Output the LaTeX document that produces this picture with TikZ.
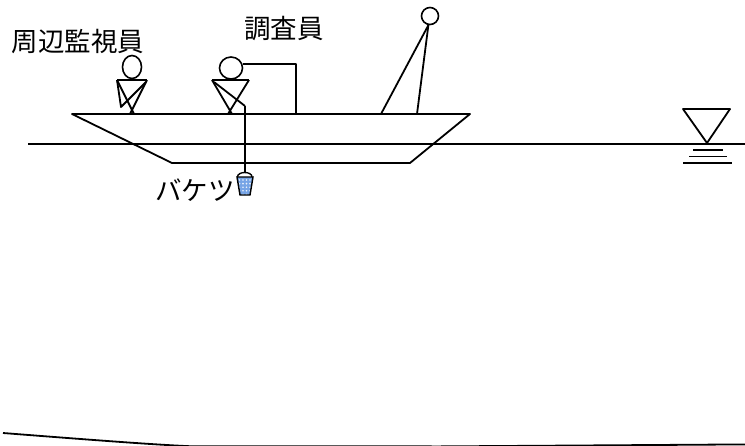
\documentclass[tikz,border=0pt]{standalone}
\usepackage{fontspec}
\newfontfamily\jpfont{Noto Sans CJK JP}
\usetikzlibrary{shapes.geometric}

\definecolor{bucketBlue}{RGB}{118,164,230}

\begin{document}
\begin{tikzpicture}[
    x=1pt, y=-1pt,
    % Define the style for all outline strokes
    lineStyle/.style={
        draw=black,
        line width=1.8pt,
        line join=round
    },
    % Define the style for the heads
    headNode/.style={
        ellipse,
        draw=black,
        fill=white,
        line width=1.6pt,
        inner sep=0pt
    },
    % Define the style for the Japanese labels
    jLabel/.style={
        font=\jpfont\fontsize{26.5}{30}\selectfont,
        inner sep=0pt
    }
]

    \useasboundingbox (0,0) rectangle (745,445);

    % --- COORDINATE DEFINITIONS ---
    % Deck and bottom level of the boat
    \def\deckY{114}
    \def\keelY{163}
    % Water surface level
    \def\waterY{144}

    % --- BOAT AND WATER ---
    \coordinate (deckL) at (72,\deckY);
    \coordinate (deckR) at (470,\deckY);
    \coordinate (keelR) at (410,\keelY);
    \coordinate (keelL) at (172,\keelY);
    \draw[lineStyle] (deckL) -- (deckR) -- (keelR) -- (keelL) -- cycle;

    \coordinate (waterL) at (28,\waterY);
    \coordinate (waterR) at (745,\waterY);
    \draw[lineStyle] (waterL) -- (waterR);

    % Water level mark
    \coordinate (markL) at (683,109);
    \coordinate (markR) at (730,109);
    \coordinate (markTip) at (707,143);
    \draw[lineStyle] (markL) -- (markR) -- (markTip) -- cycle;
    \foreach \y/\x/\w in {150/693/723, 156.5/689/727, 163/683/732} {
        \draw[lineStyle] (\x,\y) -- (\w,\y);
    }

    % River bed
    \coordinate (bedL) at (3,433);
    \coordinate (bedM) at (190,446.2);
    \coordinate (bedN) at (440,446.4);
    \coordinate (bedR) at (745,444.4);
    \draw[lineStyle] (bedL) .. controls (80,439) and (150,444.5) .. (bedM) -- (bedN) -- (bedR);

    % --- PERSONS ---
    % Lookout
    \node[headNode, minimum width=19pt, minimum height=23pt] (watchHead) at (132,67) {};
    \draw[lineStyle] (117,80) -- (147,80);
    \draw[lineStyle] (117,80) -- (121,107) -- (146,82);
    \draw[lineStyle] (117,80) -- (134,\deckY);
    \draw[lineStyle] (147,80) -- (130,\deckY);

    % Surveyor
    \node[headNode, minimum width=23pt, minimum height=22pt] (surveyHead) at (231,68) {};
    \draw[lineStyle] (212,80) -- (249,80);
    \draw[lineStyle] (212,80) -- (232,\deckY);
    \draw[lineStyle] (249,80) -- (228,\deckY);
    \draw[lineStyle] (214,82) -- (245,106);

    % Rope from the head down to the deck
    \coordinate (ropeFoot) at (296,\deckY);
    \draw[lineStyle] (surveyHead.20) -| (ropeFoot);

    % Mast with its stays
    \node[headNode, minimum size=17pt] (mastHead) at (430,16) {};
    \coordinate (stayL) at (381,\deckY);
    \coordinate (stayR) at (417,\deckY);
    \draw[lineStyle] (mastHead.-100) -- (stayL);
    \draw[lineStyle] (mastHead.-100) -- (stayR);

    % --- BUCKET ---
    \coordinate (handTip) at (245,106);
    \coordinate (bucketTop) at (245,172.5);
    \draw[lineStyle] (handTip) -- (bucketTop);
    \draw[line width=1.4pt] (237.5,177) .. controls (237.5,171) and (252,171) .. (252,177);
    \begin{scope}
        \clip (237,177) -- (253,177) -- (250,195) -- (240,195) -- cycle;
        \fill[bucketBlue] (236,176) rectangle (254,196);
        \foreach \j in {0,...,4} {
            \foreach \i in {0,...,4} {
                \fill[white!85!bucketBlue] ({239.5+\i*3.5},{180+\j*3.6}) circle (0.9);
            }
        }
    \end{scope}
    \draw[line width=1.4pt] (237,177) -- (253,177) -- (250,195) -- (240,195) -- cycle;

    % --- LABELS ---
    \node[jLabel] (watchLabel) at (78,42) {周辺監視員};
    \node[jLabel] (surveyLabel) at (284,29) {調査員};
    \node[jLabel] (bucketLabel) at (195,190) {バケツ};

\end{tikzpicture}
\end{document}
